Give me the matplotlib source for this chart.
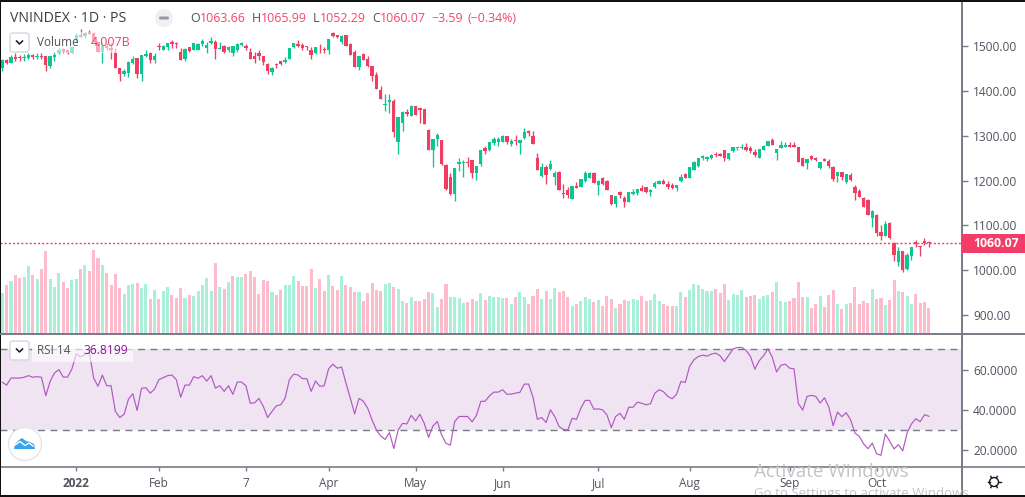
import numpy as np
import matplotlib
matplotlib.use('Agg')
import matplotlib.pyplot as plt
from matplotlib.patches import Circle, Polygon, Rectangle, FancyBboxPatch

plt.rcParams['font.family'] = ['Open Sans', 'DejaVu Sans']

# daily candles
open_ = [1451,1469,1463,1476,1476,1473,1473,1480,1475,1478,
         1478,1455,1475,1485,1493,1491,1485,1513,1524,1522,
         1532,1528,1510,1487,1500,1495,1484,1452,1438,1439,
         1461,1473,1438,1478,1484,1469,1500,1492,1497,1510,
         1506,1487,1470,1498,1491,1492,1504,1495,1507,1510,
         1493,1500,1491,1484,1491,1503,1501,1486,1478,1484,
         1478,1460,1443,1460,1466,1464,1472,1497,1504,1502,
         1500,1491,1484,1492,1494,1490,1530,1524,1510,1525,
         1504,1487,1454,1482,1471,1455,1435,1402,1368,1376,
         1377,1285,1329,1353,1344,1366,1361,1360,1313,1268,
         1293,1290,1235,1208,1170,1237,1239,1241,1246,1217,
         1237,1272,1268,1284,1286,1286,1299,1282,1290,1284,
         1295,1310,1299,1250,1210,1230,1226,1208,1219,1172,
         1179,1159,1188,1186,1199,1206,1217,1190,1206,1199,
         1168,1148,1175,1161,1152,1170,1172,1184,1186,1175,
         1186,1192,1199,1192,1190,1184,1200,1215,1206,1224,
         1233,1250,1248,1251,1260,1260,1269,1248,1266,1272,
         1273,1275,1273,1264,1251,1269,1278,1291,1262,1273,
         1275,1280,1280,1275,1251,1239,1255,1251,1228,1249,
         1244,1231,1211,1220,1197,1213,1186,1177,1160,1157,
         1116,1124,1086,1077,1106,1061,1019,1043,1003,1032,
         1064,1055,1066,1063.66]
high = [1470,1472,1481,1484,1481,1482,1485,1482,1485,1485,
        1478,1478,1487,1496,1495,1492,1499,1528,1537,1532,
        1536,1532,1511,1510,1506,1506,1495,1452,1448,1467,
        1478,1473,1480,1491,1487,1484,1506,1502,1507,1513,
        1510,1495,1495,1498,1507,1507,1516,1510,1519,1513,
        1510,1502,1501,1500,1506,1510,1504,1495,1487,1490,
        1478,1461,1454,1463,1467,1475,1495,1507,1513,1506,
        1501,1498,1497,1504,1497,1516,1532,1524,1525,1525,
        1506,1491,1478,1485,1478,1455,1442,1411,1393,1393,
        1382,1342,1355,1359,1368,1366,1361,1360,1315,1292,
        1305,1290,1237,1216,1228,1250,1246,1253,1246,1233,
        1268,1277,1286,1296,1298,1302,1299,1292,1302,1290,
        1317,1313,1311,1261,1239,1235,1246,1221,1221,1192,
        1185,1188,1197,1204,1221,1218,1220,1201,1208,1201,
        1168,1166,1177,1166,1175,1181,1181,1190,1186,1181,
        1199,1201,1204,1199,1195,1190,1215,1217,1231,1243,
        1251,1258,1254,1260,1264,1261,1269,1262,1275,1275,
        1282,1284,1278,1271,1271,1280,1289,1295,1270,1289,
        1287,1287,1287,1275,1251,1248,1258,1252,1242,1251,
        1247,1232,1220,1220,1215,1217,1191,1182,1164,1159,
        1135,1126,1101,1110,1108,1064,1052,1043,1039,1052,
        1068,1055,1072,1065.99]
low = [1445,1460,1461,1467,1466,1467,1472,1470,1472,1470,
       1445,1452,1467,1482,1485,1483,1484,1510,1520,1517,
       1527,1508,1487,1463,1491,1472,1450,1423,1433,1430,
       1460,1429,1423,1475,1463,1461,1492,1490,1492,1495,
       1495,1469,1467,1487,1490,1490,1501,1484,1504,1472,
       1493,1484,1487,1478,1487,1500,1491,1470,1461,1469,
       1458,1438,1435,1450,1458,1461,1470,1495,1498,1492,
       1491,1471,1482,1484,1484,1482,1521,1518,1505,1500,
       1480,1454,1447,1469,1454,1422,1404,1382,1356,1351,
       1296,1259,1311,1343,1343,1346,1329,1326,1268,1231,
       1276,1235,1179,1168,1155,1222,1209,1231,1206,1201,
       1233,1259,1266,1279,1277,1285,1282,1276,1279,1259,
       1293,1300,1282,1224,1208,1192,1224,1190,1179,1160,
       1160,1159,1184,1186,1197,1206,1195,1168,1190,1179,
       1146,1141,1162,1141,1152,1168,1168,1177,1172,1166,
       1184,1192,1192,1181,1181,1177,1197,1205,1206,1223,
       1230,1246,1243,1249,1252,1254,1244,1246,1264,1269,
       1271,1266,1261,1252,1251,1269,1278,1279,1246,1272,
       1274,1274,1275,1242,1233,1226,1246,1243,1226,1243,
       1228,1200,1197,1202,1194,1200,1157,1164,1142,1124,
       1097,1077,1068,1077,1070,1021,1010,997,1001,1023,
       1052,1032,1057,1052.29]
close = [1469,1461,1475,1470,1473,1476,1480,1476,1478,1476,
         1457,1478,1481,1492,1487,1485,1498,1524,1521,1528,
         1527,1510,1487,1500,1495,1491,1450,1438,1445,1465,
         1472,1438,1480,1482,1469,1478,1497,1500,1507,1504,
         1504,1469,1493,1489,1506,1504,1512,1502,1512,1493,
         1495,1487,1498,1500,1504,1506,1495,1471,1470,1478,
         1465,1444,1452,1458,1460,1469,1495,1506,1501,1495,
         1497,1480,1497,1491,1490,1516,1522,1519,1522,1500,
         1480,1454,1478,1469,1455,1432,1404,1382,1371,1380,
         1309,1342,1353,1348,1366,1346,1357,1326,1268,1292,
         1302,1236,1181,1170,1228,1241,1241,1240,1217,1233,
         1268,1266,1286,1293,1293,1299,1286,1288,1289,1290,
         1308,1305,1282,1224,1230,1212,1237,1217,1179,1170,
         1168,1188,1184,1204,1217,1217,1195,1199,1192,1179,
         1148,1166,1168,1152,1175,1175,1181,1177,1175,1179,
         1195,1199,1192,1186,1184,1190,1208,1205,1231,1241,
         1251,1255,1252,1258,1258,1255,1250,1262,1275,1275,
         1275,1269,1265,1258,1271,1278,1289,1279,1270,1280,
         1280,1275,1275,1242,1233,1248,1249,1246,1242,1244,
         1233,1204,1220,1209,1215,1202,1173,1164,1142,1124,
         1133,1084,1077,1104,1072,1035,1043,1001,1035,1052,
         1059,1052,1061,1060.07]

# volume in billions, last bar is the 4.007B in the legend
volume = [6.41,7.69,8.33,9.29,8.81,8.97,10.73,9.29,8.65,10.25,
          13.14,8.65,7.37,9.61,8.17,7.21,8.49,8.65,10.25,10.89,
          9.93,13.30,12.02,10.89,9.61,7.69,9.45,7.21,6.25,7.69,
          7.85,8.01,7.21,7.85,5.45,6.89,5.45,6.73,7.37,6.09,
          5.61,7.21,5.61,6.09,5.93,6.73,7.69,8.81,6.73,11.21,
          7.37,7.05,8.17,9.13,8.97,8.97,9.45,9.93,8.97,6.25,
          8.49,8.33,6.57,6.09,6.89,7.69,7.69,9.13,8.33,7.53,
          7.53,10.25,7.21,8.65,6.73,9.29,7.53,6.89,
          9.13,7.69,7.37,6.57,6.57,5.13,6.41,8.01,6.89,6.73,
          7.85,8.01,7.37,7.05,5.13,4.81,5.77,5.13,5.13,5.45,
          6.57,6.41,4.17,5.45,7.85,5.77,5.77,5.61,4.81,4.97,
          5.45,5.13,6.41,5.29,5.93,5.77,5.77,5.61,5.61,4.65,
          5.77,6.57,5.77,4.65,5.93,7.05,5.45,6.73,5.45,7.21,
          6.57,6.73,5.77,4.33,4.65,5.13,5.77,5.45,4.97,5.29,
          4.33,5.93,5.45,4.01,4.65,5.29,5.13,5.45,5.29,5.93,
          5.13,5.29,6.25,5.13,4.65,4.33,4.33,4.33,
          6.57,5.77,6.89,7.85,7.69,7.05,6.73,6.73,7.05,6.41,
          7.85,5.29,6.25,6.09,6.89,5.77,5.93,6.09,5.45,5.93,
          6.09,6.57,8.17,5.13,4.97,5.13,5.61,8.17,5.77,5.77,
          4.01,4.65,5.93,4.17,6.09,6.89,4.65,3.84,4.65,4.81,
          7.37,4.65,5.13,4.81,7.05,5.45,5.61,4.49,5.29,8.49,
          6.73,6.57,5.93,4.65,6.25,4.81,4.97,4.007]
volume_dir = ("grgrrggrgrrgggrrggrgrrrgrrrrgggrggrgrggrrrgrgggggrgrgrggrrrrrrgrrgggrrrrgrrgrr"
              "grrrgrrrrrggrggrgrrrrggrrggggrrggrggggrgrggrrrgrggrrrgrgggrgrrrgrrgggrrgggrrrg"
              "grggggggrrrggggrrrgggrgggrrrrgrrgrrrgrgrrrrrgrrgrrgrggrrrr")

rsi = [53.7,52.3,55.8,55.8,55.8,56.2,57,56.2,56.5,56.2,
       47,54.2,58.3,60,56.3,56.3,60.3,67.8,66.3,67.5,
       68.7,55.8,51.7,57.3,52,52,39.2,36.2,37.8,45.3,
       48,39.7,50.7,51,48.3,50.3,55,56,57,57.3,
       55,46.3,52.3,52.3,56.5,55.7,57,54.3,57,50.8,
       52,49.2,52,47.7,53.8,53.8,52,43.3,43.5,45.7,
       41.7,36.2,39.2,42,42.5,45.8,55,57.8,57.3,55.5,
       55.5,49.2,54.3,51.7,52,60.3,62.7,60.7,
       61.3,53.3,45.8,38,45.7,44.3,40.8,35,30,27,
       25.3,28.7,20.8,30,33.3,33,37.3,34.5,37.8,33.3,
       26.3,32,34.2,27.5,23.3,22.5,34.2,36.7,36.7,36.7,
       34,37.3,44.2,44.3,47,48.8,48.8,50,47.8,47.8,
       48.3,48.7,52.8,52.8,46.3,35.3,36.2,33.7,40,36.7,
       31.7,30.3,30,35.8,35.3,40.8,44.7,44.7,40.3,40.5,
       40,37.5,31.2,36.7,38.3,35.3,41.3,41.3,43.8,43.3,
       42.5,43,48.3,50,49,46.7,45.5,47.8,
       54.1,53.6,61.6,64.9,66.5,67.2,66.7,67.7,68.2,66.9,
       64,67.2,70.3,71,71,69.5,66.5,60.2,64.4,66.9,
       70.3,66.2,58.8,62.2,62.7,60.7,60.4,43.1,39.9,46.7,
       47.2,46.7,43.4,46,41.4,32.1,38.9,36.6,38.6,35.1,
       28.5,26.9,23.1,20.7,23.5,18.2,17.4,28,24.4,20.6,
       22.7,19.6,28.5,33,35.6,34.1,37.6,36.82]

price_ticks = [900, 1000, 1100, 1200, 1300, 1400, 1500]
rsi_ticks = [20, 40, 60]
time_idx = [17, 36, 56, 75, 95, 115, 137, 158, 181, 201]
time_labels = ['2022', 'Feb', '7', 'Apr', 'May', 'Jun', 'Jul', 'Aug', 'Sep', 'Oct']
last_price = 1060.07

RED = '#f23d63'
GREEN = '#0bc690'
RED_VOL = '#fdbbcb'
GREEN_VOL = '#a9efd9'
AXIS = '#787b86'
LABEL = '#50535e'

W, H = 1025, 497
PX = 4.35   # one bar in pixels
x = np.arange(len(close))
o, h, l, c = map(np.array, (open_, high, low, close))
up = c >= o


def box(top, bottom, left=0, right=962):
    return [left / W, 1 - bottom / H, (right - left) / W, (bottom - top) / H]


fig = plt.figure(figsize=(W / 100, H / 100), dpi=100, facecolor='white')
ax = fig.add_axes(box(2, 333))
ax_vol = fig.add_axes(box(2, 333), sharex=ax)
ax_rsi = fig.add_axes(box(335, 467), sharex=ax)

# volume goes behind the candles
ax_vol.set_zorder(1)
ax.set_zorder(2)
ax.patch.set_alpha(0)
ax_vol.bar(x, volume, width=0.7, color=[GREEN_VOL if d == 'g' else RED_VOL for d in volume_dir])
ax_vol.set_ylim(0, 331 / 6.24)
ax_vol.axis('off')

colors = np.where(up, GREEN, RED)
ax.vlines(x, l, h, colors=colors, lw=0.95)
ax.bar(x, np.abs(c - o), bottom=np.minimum(o, c), width=0.76, color=colors)
ax.axhline(last_price, color=RED, lw=1, ls=(0, (1.5, 1.5)), zorder=1)
ax.set_xlim(-2.3 / PX, (962 - 2.3) / PX)
ax.set_ylim(860.1, 1598.1)

# rsi pane
ax_rsi.axhspan(30, 70, color='#f0e4f2', lw=0)
for lev in (30, 70):
    ax_rsi.axhline(lev, color=AXIS, lw=1, ls=(0, (5, 4)))
ax_rsi.plot(x, rsi, color='#b058c2', lw=0.85)
ax_rsi.set_ylim(11.6, 77.2)

for a, ticks, fmt in ((ax, price_ticks, '%.2f'), (ax_rsi, rsi_ticks, '%.4f')):
    a.yaxis.tick_right()
    a.set_yticks(ticks)
    a.set_yticklabels([fmt % t for t in ticks], fontsize=8.6, color=LABEL)
    a.tick_params(axis='y', length=4, width=1, color=AXIS, pad=4)
    for s in ('top', 'left', 'bottom'):
        a.spines[s].set_visible(False)
    a.spines['right'].set_color(AXIS)
    a.spines['right'].set_linewidth(1.4)

ax.tick_params(axis='x', bottom=False, labelbottom=False)
ax_rsi.spines['bottom'].set_visible(True)
ax_rsi.spines['bottom'].set_color(AXIS)
ax_rsi.spines['bottom'].set_linewidth(1.2)
ax_rsi.set_xticks(time_idx)
ax_rsi.set_xticklabels(time_labels, fontsize=8.5, color=LABEL)
ax_rsi.get_xticklabels()[0].set_fontweight('bold')
ax_rsi.tick_params(axis='x', length=3, width=1, color=AXIS, pad=4.5)

# everything drawn in screen pixels on top: legends, buttons, borders
top = fig.add_axes([0, 0, 1, 1], zorder=5)
top.set_xlim(0, W)
top.set_ylim(H, 0)
top.axis('off')
top.patch.set_alpha(0)

top.add_patch(Rectangle((0, 0), W, 2, color='#111111', lw=0))
top.add_patch(Rectangle((0, 0), 1, H, color='#111111', lw=0))
top.plot([0, W], [333.5, 333.5], color=AXIS, lw=1.4)
top.plot([962, W], [467, 467], color=AXIS, lw=1.2)
top.plot([962, 962], [467, 495], color=AXIS, lw=1.4)


def legend_button(y):
    top.add_patch(FancyBboxPatch((10, y), 19, 19, boxstyle='round,pad=0,rounding_size=2.5',
                                 fc='white', ec='#d6d8e0', lw=1))
    top.plot([16.5, 19.5, 22.5], [y + 8, y + 11, y + 8], color='#131722', lw=1.1)


top.text(10, 18, 'VNINDEX · 1D · PS', fontsize=10.2, color='#3a3d48', va='center')
top.add_patch(Circle((164, 18), 9, fc='#eff0f3', ec='none'))
top.add_patch(FancyBboxPatch((159, 16.5), 10, 3, boxstyle='round,pad=0,rounding_size=1.5',
                             fc='#9598a1', ec='none'))
for px, s, col in ((190, 'O', LABEL), (200, '1063.66', RED), (252, 'H', LABEL), (261, '1065.99', RED),
                   (313, 'L', LABEL), (320, '1052.29', RED), (372, 'C', LABEL), (380, '1060.07', RED),
                   (431, '−3.59', RED), (468, '(−0.34%)', RED)):
    top.text(px, 18.5, s, fontsize=8.9, color=col, va='center', alpha=0.95 if col == RED else 1)

top.add_patch(Rectangle((33, 32), 100, 21, fc='white', alpha=0.55, lw=0))
legend_button(33)
top.text(37, 42.5, 'Volume', fontsize=8.5, color='#50535e', va='center')
top.text(91, 42.5, '4.007B', fontsize=8.9, color=RED, va='center')

top.add_patch(Rectangle((32, 341), 101, 21, fc='white', alpha=0.6, lw=0))
legend_button(341)
top.text(37, 351, 'RSI 14', fontsize=8.5, color='#50535e', va='center')
top.text(83, 351, '36.8199', fontsize=8.7, color='#8e1599', va='center')

# last price flag
top.add_patch(Rectangle((962, 234), 63, 19, fc='#f33d66', lw=0))
top.text(973, 243.5, '%.2f' % last_price, fontsize=8.8, fontweight='bold', color='white', va='center')

# logo bubble
top.add_patch(Circle((25, 444), 16.5, fc='white', ec='#e3e5ea', lw=1))
top.add_patch(Polygon([(14, 449), (15, 444), (19, 440), (22, 438), (26, 441), (30, 442),
                       (34, 444), (35, 449)], fc='#3aa3ef', ec='none'))
top.plot([15, 20, 25, 29, 33], [445, 441.5, 445.5, 443, 446], color='white', lw=1)

# settings icon
top.add_patch(Circle((994, 482), 4.5, fc='white', ec='#131722', lw=1))
for ang in np.deg2rad(np.arange(0, 360, 60)):
    top.plot([994 + 4.5 * np.cos(ang), 994 + 6.5 * np.cos(ang)],
             [482 + 4.5 * np.sin(ang), 482 + 6.5 * np.sin(ang)], color='#131722', lw=1)

# windows watermark, cut by the bottom edge like the screenshot
top.text(754, 472, 'Activate Windows', fontsize=13.6, color='#c4c4c4', va='center')
top.text(754, 493, 'Go to Settings to activate Windows.', fontsize=9.5, color='#c4c4c4', va='center')
top.add_patch(Rectangle((0, 495), W, 2, color='#111111', lw=0, zorder=6))

fig.savefig('out.png', dpi=100)
